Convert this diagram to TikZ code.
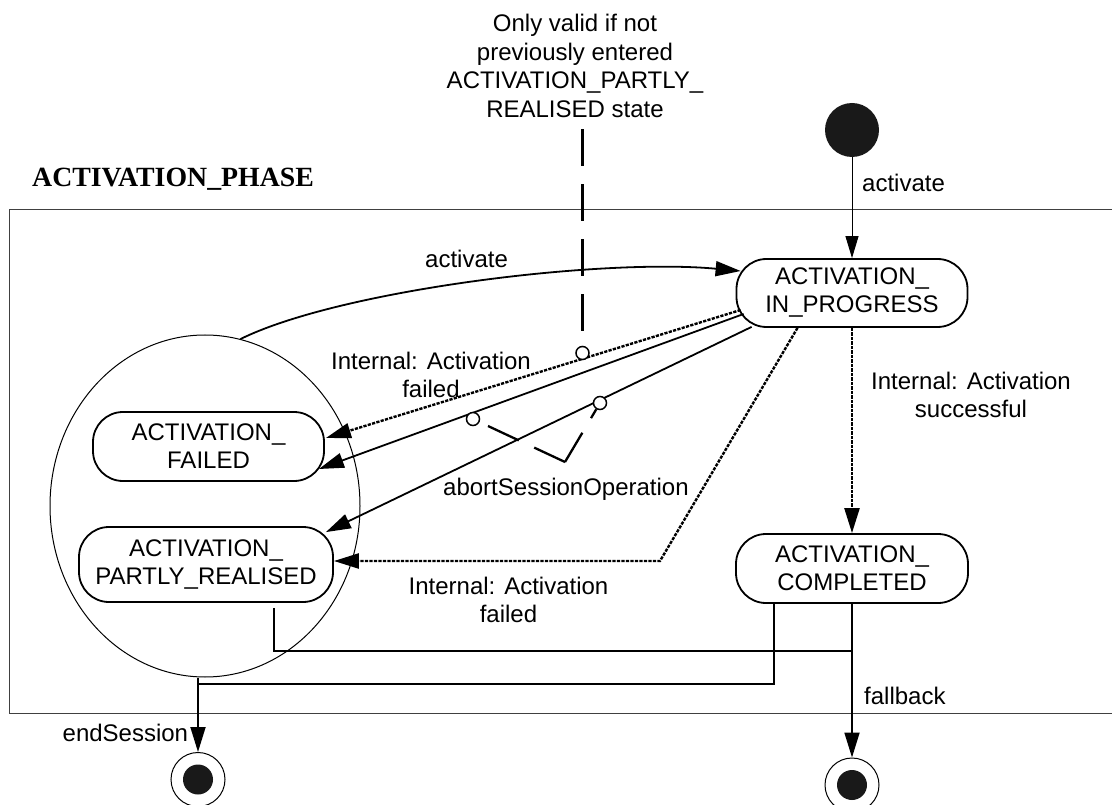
\documentclass[tikz,border=0pt]{standalone}
\usepackage{fontspec}
\setmainfont{Liberation Sans}
\newfontfamily\titlefont{Liberation Serif}
\usetikzlibrary{arrows.meta,shapes.geometric}
\begin{document}
\begin{tikzpicture}[x=1pt,y=-1pt,
  every node/.style={font=\fontsize{24}{28}\selectfont},
  stbox/.style={draw,line width=1.8pt,rounded corners=30pt,align=center,inner sep=0pt},
  trans/.style={line width=1.8pt},
  dotline/.style={line width=2.4pt,dash pattern=on 3.2pt off 1.3pt},
  arr/.style={-{Triangle[length=25pt,width=15pt]}},
  arrthin/.style={-{Triangle[length=22pt,width=13pt]}},
  lbl/.style={inner sep=0pt,align=center},
  notedash/.style={line width=2.5pt,dash pattern=on 37pt off 18pt},
  vdash/.style={line width=2.3pt,dash pattern=on 34pt off 17pt},
  anchorcirc/.style={circle,draw,fill=white,line width=1.5pt,minimum size=13pt,inner sep=0pt},
  darkdot/.style={circle,fill=black!90,inner sep=0pt},
  finring/.style={circle,draw,line width=1pt,minimum size=54pt,inner sep=0pt},
]
\useasboundingbox (0,0) rectangle (1112,805);

% frame
\draw[line width=1.2pt,black!75] (1113,209.5) -- (9.5,209.5) -- (9.5,713.3) -- (1113,713.3);
\node[inner sep=0pt,anchor=base west,font=\titlefont\bfseries\fontsize{27.8}{32}\selectfont] (title) at (32,186.5) {ACTIVATION\_PHASE};

% group ellipse
\node[ellipse,draw,line width=1pt,minimum width=310pt,minimum height=342pt,inner sep=0pt] (grp) at (205,506) {};

% states
\node[stbox,minimum width=231pt,minimum height=68pt] (inprog) at (852,293) {ACTIVATION\_\\IN\_PROGRESS};
\node[stbox,minimum width=232pt,minimum height=69pt] (completed) at (852,568.5) {ACTIVATION\_\\COMPLETED};
\node[stbox,minimum width=231pt,minimum height=69pt] (failed) at (208.5,446.5) {ACTIVATION\_\\FAILED};
\node[stbox,minimum width=254pt,minimum height=75pt] (partly) at (206,564.5) {ACTIVATION\_\\PARTLY\_REALISED};

% initial and final states
\node[darkdot,minimum size=54pt] (init) at (852,130) {};
\node[finring] (endf) at (198,779.5) {};
\node[darkdot,minimum size=30pt] (endfin) at (endf) {};
\node[finring] (fbf) at (852,785) {};
\node[darkdot,minimum size=30pt] (fbfin) at (fbf) {};

% transitions
\draw[line width=1pt,arrthin] (init) -- (inprog.north);
\draw[trans,arr] (grp.78) .. controls (340,290) and (600,258) .. ([shift={(5,-22)}]inprog.west);
\draw[dotline,arr] ([shift={(5,17)}]inprog.west) -- ([shift={(1,-8.5)}]failed.east);
\draw[trans,arr] ([shift={(8,21)}]inprog.west) -- ([shift={(-6,22.5)}]failed.east);
\draw[trans,arr] ([shift={(16,-1)}]inprog.south west) -- ([shift={(-8,6)}]partly.north east);
\coordinate (bend) at (660,561);
\draw[dotline,arr] ([shift={(-54.5,0)}]inprog.south) -- (bend) -- (bend -| partly.east);
\draw[dotline,arr] (inprog.south) -- (completed.north);

\coordinate (j1) at (852,651);
\coordinate (j2) at (198,684);
\draw[trans] ([shift={(68,5)}]partly.south) |- (j1);
\draw[trans] ([shift={(-78,0)}]completed.south) |- (j2);
\draw[trans,arr] (completed.south) -- (fbf);
\draw[trans,arr] (endf |- grp.south) -- (endf);

% notes
\node[lbl,anchor=north,font=\fontsize{24}{28.5}\selectfont] (note) at (575,14) {Only valid if not\\previously entered\\ACTIVATION\_PARTLY\_\\REALISED state};
\coordinate (nt) at (582.5,129.3);
\node[anchorcirc] (ctop) at (582.5,353) {};
\draw[notedash] (nt) -- (ctop);
\coordinate (vtx) at (565,462);
\node[anchorcirc] (ca1) at (473,419) {};
\node[anchorcirc] (ca2) at (600,403) {};
\draw[vdash] (vtx) -- (ca1);
\draw[vdash] (vtx) -- (ca2);

% labels
\node[lbl,anchor=base west] (lact0) at (862,191.7) {activate};
\node[lbl,anchor=base west] (lact) at (425,268) {activate};
\node[lbl,anchor=north] (lfail1) at (431,351.7) {Internal: Activation\\failed};
\node[lbl,anchor=base west] (labort) at (443,495) {abortSessionOperation};
\node[lbl,anchor=north] (lfail2) at (508.5,577) {Internal: Activation\\failed};
\node[lbl,anchor=north] (lsucc) at (971,371.7) {Internal: Activation\\successful};
\node[lbl,anchor=base east] (lend) at (188.3,741.7) {endSession};
\node[lbl,anchor=base west] (lfb) at (864,704) {fallback};
\end{tikzpicture}
\end{document}
